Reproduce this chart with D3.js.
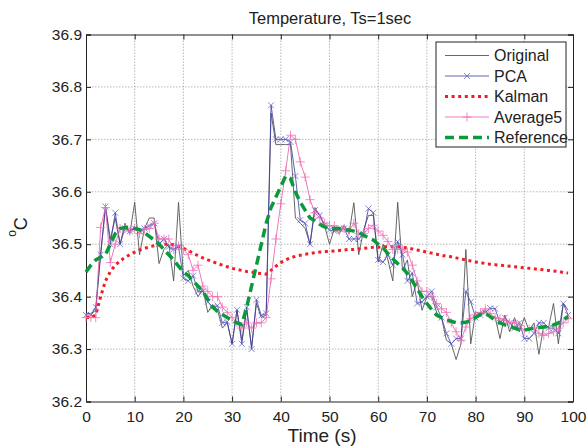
<!DOCTYPE html>
<html>
<head>
<meta charset="utf-8">
<script src="https://cdn.jsdelivr.net/npm/d3@7"></script>
<style>
  html, body { margin: 0; padding: 0; background: #fff; }
  svg { display: block; }
  text { font-family: Arial, "Liberation Sans", Helvetica, sans-serif; fill: #222; }
</style>
</head>
<body>
<svg id="chart" width="587" height="447"></svg>
<script>
// Sample times (s), one reading per second
const times = d3.range(0, 100);

// Raw sensor temperature (degC)
const original = [
  36.368, 36.368, 36.374, 36.48, 36.572, 36.51, 36.55, 36.50, 36.54, 36.52,
  36.58, 36.48, 36.53, 36.55, 36.55, 36.463, 36.49, 36.50, 36.43, 36.58,
  36.44, 36.45, 36.42, 36.40, 36.415, 36.37, 36.385, 36.375, 36.34, 36.35,
  36.31, 36.374, 36.317, 36.374, 36.304, 36.387, 36.36, 36.365, 36.75, 36.69,
  36.69, 36.69, 36.69, 36.55, 36.54, 36.53, 36.50, 36.57, 36.555, 36.535,
  36.50, 36.53, 36.52, 36.536, 36.52, 36.579, 36.48, 36.527, 36.555, 36.555,
  36.466, 36.50, 36.47, 36.43, 36.58, 36.45, 36.47, 36.40, 36.43, 36.374,
  36.40, 36.40, 36.37, 36.36, 36.317, 36.31, 36.28, 36.31, 36.49, 36.31,
  36.37, 36.367, 36.374, 36.36, 36.362, 36.32, 36.365, 36.333, 36.36, 36.333,
  36.36, 36.335, 36.35, 36.29, 36.345, 36.342, 36.387, 36.31, 36.387, 36.374
];

// PCA-filtered temperature
const pca = [
  36.365, 36.365, 36.38, 36.48, 36.572, 36.50, 36.56, 36.50, 36.53, 36.525,
  36.53, 36.525, 36.53, 36.535, 36.54, 36.50, 36.51, 36.495, 36.49, 36.495,
  36.435, 36.43, 36.44, 36.41, 36.41, 36.39, 36.38, 36.383, 36.35, 36.352,
  36.31, 36.375, 36.31, 36.38, 36.30, 36.394, 36.364, 36.368, 36.765, 36.70,
  36.70, 36.70, 36.695, 36.63, 36.546, 36.54, 36.50, 36.565, 36.555, 36.537,
  36.527, 36.525, 36.53, 36.53, 36.51, 36.51, 36.51, 36.52, 36.568, 36.56,
  36.47, 36.466, 36.48, 36.46, 36.505, 36.48, 36.43, 36.445, 36.387, 36.39,
  36.40, 36.41, 36.38, 36.36, 36.33, 36.31, 36.32, 36.32, 36.41, 36.39,
  36.36, 36.365, 36.37, 36.378, 36.377, 36.35, 36.36, 36.35, 36.34, 36.35,
  36.32, 36.32, 36.33, 36.35, 36.35, 36.34, 36.34, 36.33, 36.387, 36.365
];

// Kalman-filtered temperature
const kalman = [
  36.36, 36.36, 36.365, 36.40, 36.43, 36.448, 36.46, 36.468, 36.475, 36.48,
  36.485, 36.489, 36.492, 36.495, 36.497, 36.499, 36.50, 36.50, 36.499, 36.496,
  36.492, 36.488, 36.483, 36.478, 36.474, 36.47, 36.467, 36.463, 36.46, 36.457,
  36.454, 36.452, 36.45, 36.448, 36.447, 36.445, 36.444, 36.443, 36.45, 36.458,
  36.465, 36.47, 36.474, 36.477, 36.479, 36.481, 36.482, 36.484, 36.485, 36.486,
  36.486, 36.487, 36.488, 36.489, 36.49, 36.49, 36.491, 36.492, 36.493, 36.494,
  36.494, 36.495, 36.495, 36.495, 36.495, 36.494, 36.493, 36.491, 36.489, 36.487,
  36.485, 36.483, 36.481, 36.479, 36.477, 36.476, 36.474, 36.472, 36.47, 36.468,
  36.466, 36.465, 36.463, 36.462, 36.461, 36.46, 36.459, 36.458, 36.457, 36.456,
  36.455, 36.454, 36.453, 36.452, 36.451, 36.45, 36.449, 36.448, 36.446, 36.445
];

// Five-sample moving average
const average5 = [
  36.36, 36.36, 36.36, 36.532, 36.57, 36.465, 36.50, 36.53, 36.53, 36.525,
  36.53, 36.52, 36.528, 36.53, 36.54, 36.51, 36.51, 36.51, 36.49, 36.497,
  36.49, 36.48, 36.45, 36.46, 36.42, 36.41, 36.40, 36.40, 36.38, 36.37,
  36.36, 36.35, 36.34, 36.35, 36.34, 36.35, 36.35, 36.36, 36.434, 36.51,
  36.577, 36.64, 36.708, 36.70, 36.657, 36.628, 36.585, 36.56, 36.55, 36.54,
  36.535, 36.535, 36.525, 36.53, 36.525, 36.54, 36.52, 36.52, 36.53, 36.536,
  36.525, 36.517, 36.505, 36.49, 36.49, 36.49, 36.485, 36.46, 36.43, 36.41,
  36.41, 36.40, 36.387, 36.377, 36.37, 36.35, 36.333, 36.317, 36.342, 36.358,
  36.365, 36.37, 36.377, 36.368, 36.36, 36.358, 36.355, 36.35, 36.35, 36.345,
  36.336, 36.338, 36.34, 36.33, 36.326, 36.33, 36.333, 36.34, 36.35, 36.358
];

// Reference thermometer reading
const reference = [
  36.447, 36.46, 36.47, 36.475, 36.48, 36.50, 36.52, 36.53, 36.532, 36.532,
  36.53, 36.528, 36.522, 36.515, 36.508, 36.50, 36.49, 36.48, 36.47, 36.458,
  36.447, 36.44, 36.43, 36.42, 36.41, 36.395, 36.38, 36.372, 36.366, 36.36,
  36.355, 36.35, 36.347, 36.38, 36.42, 36.46, 36.50, 36.54, 36.57, 36.59,
  36.61, 36.63, 36.625, 36.60, 36.58, 36.565, 36.55, 36.545, 36.538, 36.533,
  36.53, 36.53, 36.53, 36.527, 36.527, 36.525, 36.522, 36.517, 36.512, 36.508,
  36.50, 36.493, 36.482, 36.472, 36.463, 36.455, 36.444, 36.43, 36.415, 36.40,
  36.387, 36.375, 36.365, 36.36, 36.356, 36.353, 36.35, 36.35, 36.351, 36.355,
  36.36, 36.366, 36.368, 36.362, 36.355, 36.35, 36.346, 36.343, 36.34, 36.337,
  36.336, 36.338, 36.34, 36.341, 36.342, 36.343, 36.346, 36.35, 36.356, 36.362
];

const xTicks = [0, 10, 20, 30, 40, 50, 60, 70, 80, 90, 100];
const yTicks = [36.2, 36.3, 36.4, 36.5, 36.6, 36.7, 36.8, 36.9];
const seriesNames = ["Original", "PCA", "Kalman", "Average5", "Reference"];

const svg = d3.select("#chart");
const plot = { left: 86, right: 573, top: 34.5, bottom: 401.5 };

const x = d3.scaleLinear().domain([0, 100]).range([plot.left, plot.right]);
const y = d3.scaleLinear().domain([36.2, 36.9]).range([plot.bottom, plot.top]);

// Dotted grid
const grid = svg.append("g");
grid.selectAll("line.vx").data(xTicks.slice(1, -1)).join("line")
  .attr("x1", d => x(d)).attr("x2", d => x(d))
  .attr("y1", plot.top).attr("y2", plot.bottom)
  .attr("stroke", "#9a9a9a").attr("stroke-width", 0.7).attr("stroke-dasharray", "1.5,1.5");
grid.selectAll("line.hy").data(yTicks.slice(1, -1)).join("line")
  .attr("x1", plot.left).attr("x2", plot.right)
  .attr("y1", d => y(d)).attr("y2", d => y(d))
  .attr("stroke", "#9a9a9a").attr("stroke-width", 0.7).attr("stroke-dasharray", "1.5,1.5");

// Axes with inward ticks
const xAxis = svg.append("g").attr("transform", `translate(0,${plot.bottom})`)
  .call(d3.axisBottom(x).tickValues(xTicks).tickSize(-5).tickPadding(9).tickFormat(d3.format("d")));
const yAxis = svg.append("g").attr("transform", `translate(${plot.left},0)`)
  .call(d3.axisLeft(y).tickValues(yTicks).tickSize(-5).tickPadding(4).tickFormat(d3.format(".1f")));
const xTop = svg.append("g").attr("transform", `translate(0,${plot.top})`)
  .call(d3.axisTop(x).tickValues(xTicks).tickSize(-5).tickFormat(""));
const yRight = svg.append("g").attr("transform", `translate(${plot.right},0)`)
  .call(d3.axisRight(y).tickValues(yTicks).tickSize(-5).tickFormat(""));
[xAxis, yAxis, xTop, yRight].forEach(g => {
  g.select(".domain").attr("stroke", "#222").attr("stroke-width", 1);
  g.selectAll(".tick line").attr("stroke", "#222");
  g.selectAll(".tick text").attr("font-size", 15.5).attr("fill", "#222")
    .attr("font-family", 'Arial, "Liberation Sans", Helvetica, sans-serif');
});
yAxis.selectAll(".tick text").attr("dy", "0.3em");

// Series
const pts = arr => times.map((t, i) => [t, arr[i]]);
const line = d3.line().x(d => x(d[0])).y(d => y(d[1]));
const series = svg.append("g");

series.append("path").attr("d", line(pts(original)))
  .attr("fill", "none").attr("stroke", "#555").attr("stroke-width", 0.9);

series.append("path").attr("d", line(pts(pca)))
  .attr("fill", "none").attr("stroke", "#3a3aa6").attr("stroke-width", 0.8);
const xMark = 3;
series.append("g").selectAll("path").data(pts(pca)).join("path")
  .attr("d", d => {
    const cx = x(d[0]), cy = y(d[1]);
    return `M${cx - xMark},${cy - xMark}L${cx + xMark},${cy + xMark}M${cx - xMark},${cy + xMark}L${cx + xMark},${cy - xMark}`;
  })
  .attr("stroke", "#5a5ac0").attr("stroke-width", 0.7).attr("fill", "none");

series.append("path").attr("d", line(pts(kalman)))
  .attr("fill", "none").attr("stroke", "#f21c24").attr("stroke-width", 3)
  .attr("stroke-dasharray", "3,3.6");

series.append("path").attr("d", line(pts(average5)))
  .attr("fill", "none").attr("stroke", "#ee55aa").attr("stroke-width", 0.8);
const pMark = 4.5;
series.append("g").selectAll("path").data(pts(average5)).join("path")
  .attr("d", d => {
    const cx = x(d[0]), cy = y(d[1]);
    return `M${cx - pMark},${cy}L${cx + pMark},${cy}M${cx},${cy - pMark}L${cx},${cy + pMark}`;
  })
  .attr("stroke", "#f070b8").attr("stroke-width", 0.8).attr("fill", "none");

series.append("path").attr("d", line(pts(reference)))
  .attr("fill", "none").attr("stroke", "#0a9a3c").attr("stroke-width", 3.5)
  .attr("stroke-dasharray", "9,5");

// Titles
svg.append("text").attr("x", 330).attr("y", 24).attr("text-anchor", "middle")
  .attr("font-size", 16.5).text("Temperature, Ts=1sec");
svg.append("text").attr("x", 322).attr("y", 442).attr("text-anchor", "middle")
  .attr("font-size", 19).text("Time (s)");
const yl = svg.append("text").attr("transform", "translate(23,227) rotate(-90)")
  .attr("text-anchor", "middle").attr("font-size", 18);
yl.append("tspan").attr("font-size", 12).attr("dy", "-0.6em").text("o");
yl.append("tspan").attr("dy", "0.6em").text("C");

// Legend
const legend = svg.append("g");
legend.append("rect").attr("x", 436).attr("y", 42).attr("width", 130).attr("height", 105)
  .attr("fill", "#fff").attr("stroke", "#222").attr("stroke-width", 1);
const styles = [
  { stroke: "#555", width: 0.9, dash: null, marker: null },
  { stroke: "#3a3aa6", width: 0.8, dash: null, marker: "x" },
  { stroke: "#f21c24", width: 3, dash: "3,3.6", marker: null },
  { stroke: "#ee55aa", width: 0.8, dash: null, marker: "+" },
  { stroke: "#0a9a3c", width: 3.5, dash: "9,5", marker: null }
];
seriesNames.forEach((name, i) => {
  const ly = 55.5 + i * 20.5;
  const s = styles[i];
  legend.append("line").attr("x1", 445).attr("x2", 489).attr("y1", ly).attr("y2", ly)
    .attr("stroke", s.stroke).attr("stroke-width", s.width)
    .attr("stroke-dasharray", s.dash);
  if (s.marker === "x") {
    legend.append("path")
      .attr("d", `M${467 - xMark},${ly - xMark}L${467 + xMark},${ly + xMark}M${467 - xMark},${ly + xMark}L${467 + xMark},${ly - xMark}`)
      .attr("stroke", "#5a5ac0").attr("stroke-width", 0.7);
  } else if (s.marker === "+") {
    legend.append("path")
      .attr("d", `M${467 - pMark},${ly}L${467 + pMark},${ly}M${467},${ly - pMark}L${467},${ly + pMark}`)
      .attr("stroke", "#f070b8").attr("stroke-width", 0.8);
  }
  legend.append("text").attr("x", 494).attr("y", ly + 5.5).attr("font-size", 16).text(name);
});
</script>
</body>
</html>
